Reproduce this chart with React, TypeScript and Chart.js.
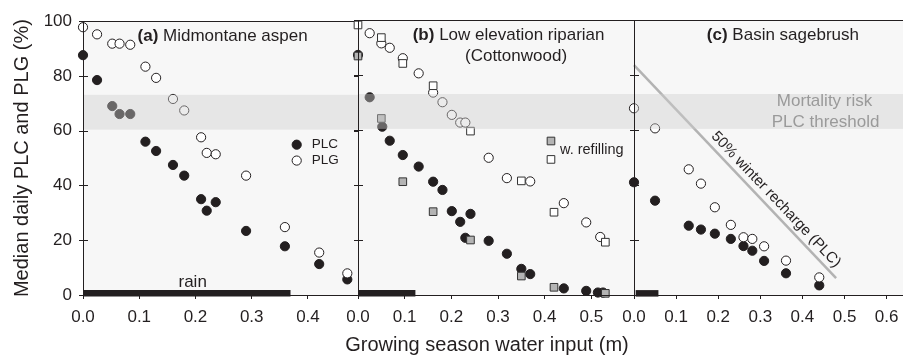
import React, { useEffect, useRef } from "react";
import { Chart, registerables } from "chart.js";

Chart.register(...registerables);

const FONT = "'Liberation Sans', Arial, Helvetica, sans-serif";
const INK = "#231f20";

// ---------- (a) Midmontane aspen ----------
const aWater = [0, 0.025, 0.052, 0.065, 0.084, 0.111, 0.13, 0.16, 0.18, 0.21, 0.22, 0.236, 0.29, 0.359, 0.42, 0.47];
const aPLC = [87.6, 78.5, 69.0, 66.1, 66.1, 56.0, 52.6, 47.5, 43.6, 35.0, 30.8, 33.9, 23.4, 17.8, 11.3, 5.7];
const aPLG = [97.8, 95.2, 91.8, 91.8, 91.4, 83.4, 79.3, 71.6, 67.4, 57.6, 51.9, 51.4, 43.6, 24.8, 15.5, 7.9];
const aRain = [0, 0.369];

// ---------- (b) Low elevation riparian (Cottonwood) ----------
const bWaterPLC = [0, 0.025, 0.052, 0.068, 0.096, 0.13, 0.161, 0.181, 0.201, 0.219, 0.23, 0.241, 0.28, 0.319, 0.35, 0.369, 0.441, 0.489, 0.514, 0.525];
const bPLC = [87.3, 71.9, 61.2, 56.1, 50.9, 46.7, 41.2, 38.2, 30.5, 26.6, 20.8, 29.5, 19.7, 15.0, 9.5, 7.6, 2.4, 1.5, 0.9, 0.9];
const bWaterPLG = [0.025, 0.05, 0.068, 0.096, 0.13, 0.161, 0.181, 0.201, 0.219, 0.23, 0.28, 0.319, 0.369, 0.441, 0.489, 0.519];
const bPLG = [95.2, 91.5, 89.9, 86.1, 80.6, 73.6, 70.1, 65.5, 62.7, 62.7, 49.9, 42.5, 41.3, 33.4, 26.4, 21.1];
const bWaterRefill = [0, 0.05, 0.096, 0.161, 0.241, 0.35, 0.42, 0.53];
const bPLCRefill = [86.9, 64.2, 41.2, 30.3, 20.0, 6.9, 2.8, 0.6];
const bPLGRefill = [98.2, 93.6, 84.2, 76.1, 59.6, 41.5, 30.1, 19.2];
const bRain = [0, 0.123];

// ---------- (c) Basin sagebrush ----------
const cWater = [0, 0.05, 0.13, 0.159, 0.192, 0.23, 0.26, 0.281, 0.309, 0.361, 0.44];
const cPLC = [41.0, 34.3, 25.2, 23.8, 22.3, 20.4, 17.8, 16.1, 12.4, 7.9, 3.5];
const cPLG = [67.9, 60.6, 45.7, 40.5, 31.9, 25.5, 21.0, 20.4, 17.7, 12.5, 6.4];
const cRain = [0.004, 0.058];
const cRechargeWater = [0, 0.48];
const cRechargePLC = [83.6, 6.1];

// ---------- shared ----------
const yTicks = [0, 20, 40, 60, 80, 100];
const riskBand = [60.4, 73.1];
const xMaxA = 0.489;
const xMaxB = 0.5914;
const xMaxC = 0.6517;

const RAIN_Y = 0.6;

type Part = { t: string; b?: boolean };
type TextItem = { x: number; y: number; parts: Part[]; align?: "left" | "center"; color?: string; size?: number };
type Marker = { x: number; y: number; kind: "dot" | "ring" | "gsq" | "wsq" };

const pts = (xs: number[], ys: number[]) => xs.map((x, i) => ({ x, y: ys[i] }));

const dotDs = (data: any[], order: number) => ({
  data, pointStyle: "circle", pointRadius: 4.6, pointBackgroundColor: INK, pointBorderColor: INK,
  pointBorderWidth: 1, showLine: false, order, clip: false,
});
const ringDs = (data: any[], order: number) => ({
  data, pointStyle: "circle", pointRadius: 4.6, pointBackgroundColor: "#ffffff", pointBorderColor: INK,
  pointBorderWidth: 1, showLine: false, order, clip: false,
});
const sqDs = (data: any[], fill: string, order: number) => ({
  data, pointStyle: "rect", pointRadius: 5.4, pointBackgroundColor: fill, pointBorderColor: "#333333",
  pointBorderWidth: 1, showLine: false, order, clip: false,
});
const rainDs = (r: number[]) => ({
  data: [{ x: r[0], y: RAIN_Y }, { x: r[1], y: RAIN_Y }], showLine: true, borderColor: INK,
  borderWidth: 6.5, borderCapStyle: "butt", pointRadius: 0, order: 10, clip: false,
});

type PanelSpec = {
  key: string; left: number; width: number; padL: number; padR: number; xMax: number; showY: boolean;
  datasets: any[]; texts: TextItem[]; markers: Marker[]; recharge?: boolean;
};

const panels: PanelSpec[] = [
  {
    key: "a", left: 0, width: 366, padL: 0, padR: 8, xMax: xMaxA, showY: true,
    datasets: [ringDs(pts(aWater, aPLG), 2), dotDs(pts(aWater, aPLC), 3), rainDs(aRain)],
    texts: [
      { x: 0.097, y: 94.5, parts: [{ t: "(a)", b: true }, { t: " Midmontane aspen" }] },
      { x: 0.4066, y: 54.9, parts: [{ t: "PLC" }], size: 13.5 },
      { x: 0.4066, y: 49.1, parts: [{ t: "PLG" }], size: 13.5 },
      { x: 0.195, y: 4.8, parts: [{ t: "rain" }], align: "center" },
    ],
    markers: [{ x: 0.38, y: 54.9, kind: "dot" }, { x: 0.38, y: 49.1, kind: "ring" }],
  },
  {
    key: "b", left: 338, width: 304, padL: 20, padR: 8, xMax: xMaxB, showY: false,
    datasets: [
      sqDs(pts(bWaterRefill, bPLGRefill), "#ffffff", 0),
      sqDs(pts(bWaterRefill, bPLCRefill), "#b4b4b4", 1),
      ringDs(pts(bWaterPLG, bPLG), 2),
      dotDs(pts(bWaterPLC, bPLC), 3),
      rainDs(bRain),
    ],
    texts: [
      { x: 0.1172, y: 94.5, parts: [{ t: "(b)", b: true }, { t: " Low elevation riparian" }] },
      { x: 0.3386, y: 86.7, parts: [{ t: "(Cottonwood)" }], align: "center" },
      { x: 0.4328, y: 52.7, parts: [{ t: "w. refilling" }], size: 14.5 },
    ],
    markers: [{ x: 0.4135, y: 56.0, kind: "gsq" }, { x: 0.4135, y: 49.3, kind: "wsq" }],
  },
  {
    key: "c", left: 614, width: 300, padL: 20, padR: 5, xMax: xMaxC, showY: false,
    datasets: [
      ringDs(pts(cWater, cPLG), 2),
      dotDs(pts(cWater, cPLC), 3),
      {
        data: pts(cRechargeWater, cRechargePLC), showLine: true, borderColor: "#b3b3b3", borderWidth: 2.5,
        pointRadius: 0, order: 9, clip: false,
      },
      rainDs(cRain),
    ],
    texts: [
      { x: 0.173, y: 94.5, parts: [{ t: "(c)", b: true }, { t: " Basin sagebrush" }] },
      { x: 0.4526, y: 70.3, parts: [{ t: "Mortality risk" }], align: "center", color: "#9a9a9a" },
      { x: 0.455, y: 62.7, parts: [{ t: "PLC threshold" }], align: "center", color: "#9a9a9a" },
    ],
    markers: [],
    recharge: true,
  },
];

function drawMarker(ctx: CanvasRenderingContext2D, px: number, py: number, kind: Marker["kind"]) {
  ctx.save();
  ctx.lineWidth = 1;
  if (kind === "dot" || kind === "ring") {
    ctx.beginPath();
    ctx.arc(px, py, 4.6, 0, Math.PI * 2);
    ctx.fillStyle = kind === "dot" ? INK : "#ffffff";
    ctx.strokeStyle = INK;
    ctx.fill();
    ctx.stroke();
  } else {
    const s = 5.4 * Math.SQRT1_2;
    ctx.beginPath();
    ctx.rect(px - s, py - s, 2 * s, 2 * s);
    ctx.fillStyle = kind === "gsq" ? "#b4b4b4" : "#ffffff";
    ctx.strokeStyle = "#333333";
    ctx.fill();
    ctx.stroke();
  }
  ctx.restore();
}

function makePlugin(spec: PanelSpec) {
  return {
    id: "panel_" + spec.key,
    beforeDraw(chart: any) {
      const { ctx, chartArea: a } = chart;
      ctx.save();
      ctx.fillStyle = "#f7f7f7";
      ctx.fillRect(a.left, a.top, a.right - a.left, a.bottom - a.top);
      ctx.restore();
    },
    afterDatasetsDraw(chart: any) {
      const { ctx, chartArea: a, scales } = chart;
      const xs = scales.x;
      const ys = scales.y;
      ctx.save();
      // mortality risk band (translucent overlay)
      const yb1 = ys.getPixelForValue(riskBand[1]);
      const yb0 = ys.getPixelForValue(riskBand[0]);
      ctx.fillStyle = "rgba(206,206,206,0.41)";
      ctx.fillRect(a.left, yb1, a.right - a.left, yb0 - yb1);

      // frame
      const L = Math.round(a.left) + 0.5;
      const R = Math.round(a.right) + 0.5;
      const T = Math.round(a.top) + 0.5;
      const B = Math.round(a.bottom) + 0.5;
      ctx.strokeStyle = INK;
      ctx.lineWidth = 1;
      ctx.beginPath();
      ctx.moveTo(L, T); ctx.lineTo(R, T);
      ctx.moveTo(L, B); ctx.lineTo(R, B);
      ctx.moveTo(L, T); ctx.lineTo(L, B);
      ctx.moveTo(R, T); ctx.lineTo(R, B);
      // crossing y ticks on both vertical edges
      for (const v of yTicks) {
        const py = Math.round(ys.getPixelForValue(v)) + 0.5;
        for (const ex of [L, R]) {
          ctx.moveTo(ex - 4.5, py);
          ctx.lineTo(ex + 4.5, py);
        }
      }
      ctx.stroke();

      // texts
      for (const t of spec.texts) {
        const size = t.size ?? 17;
        const px = xs.getPixelForValue(t.x);
        const py = ys.getPixelForValue(t.y);
        ctx.fillStyle = t.color ?? INK;
        ctx.textBaseline = "middle";
        ctx.textAlign = "left";
        const widths = t.parts.map((p) => {
          ctx.font = `${p.b ? "bold " : ""}${size}px ${FONT}`;
          return ctx.measureText(p.t).width;
        });
        const total = widths.reduce((s, w) => s + w, 0);
        let cx = t.align === "center" ? px - total / 2 : px;
        t.parts.forEach((p, i) => {
          ctx.font = `${p.b ? "bold " : ""}${size}px ${FONT}`;
          ctx.fillText(p.t, cx, py);
          cx += widths[i];
        });
      }

      // legend markers
      for (const m of spec.markers) {
        drawMarker(ctx, xs.getPixelForValue(m.x), ys.getPixelForValue(m.y), m.kind);
      }

      // recharge label along the line
      if (spec.recharge) {
        const x0 = xs.getPixelForValue(cRechargeWater[0]);
        const y0 = ys.getPixelForValue(cRechargePLC[0]);
        const x1 = xs.getPixelForValue(cRechargeWater[1]);
        const y1 = ys.getPixelForValue(cRechargePLC[1]);
        const ang = Math.atan2(y1 - y0, x1 - x0);
        const tt = 0.665;
        ctx.translate(x0 + (x1 - x0) * tt, y0 + (y1 - y0) * tt);
        ctx.rotate(ang);
        ctx.font = `15px ${FONT}`;
        ctx.fillStyle = INK;
        ctx.textAlign = "center";
        ctx.textBaseline = "middle";
        ctx.fillText("50% winter recharge (PLC)", 0, -10.5);
      }
      ctx.restore();
    },
  };
}

function Panel({ spec }: { spec: PanelSpec }) {
  const ref = useRef<HTMLCanvasElement>(null);
  useEffect(() => {
    if (!ref.current) return;
    const chart = new Chart(ref.current, {
      type: "scatter",
      data: { datasets: spec.datasets as any },
      plugins: [makePlugin(spec) as any],
      options: {
        animation: false,
        responsive: false,
        maintainAspectRatio: false,
        events: [],
        layout: { padding: { left: spec.padL, right: spec.padR, top: 20, bottom: 0 } },
        plugins: { legend: { display: false }, tooltip: { enabled: false } },
        scales: {
          x: {
            type: "linear",
            min: 0,
            max: spec.xMax,
            afterFit: (s: any) => { s.height = 61; },
            border: { display: false },
            grid: { drawOnChartArea: false, drawTicks: true, tickLength: 4, color: INK, lineWidth: 1 },
            ticks: {
              stepSize: 0.1,
              includeBounds: false,
              autoSkip: false,
              maxRotation: 0,
              padding: 8,
              color: INK,
              font: { family: FONT, size: 17 },
              callback: (v: any) => Number(v).toFixed(1),
            },
          },
          y: {
            type: "linear",
            min: 0,
            max: 100,
            display: spec.showY,
            afterFit: (s: any) => { s.width = spec.showY ? 83 : 0; },
            border: { display: false },
            grid: { drawOnChartArea: false, drawTicks: false },
            ticks: { stepSize: 20, padding: 11, color: INK, font: { family: FONT, size: 17 } },
            title: {
              display: spec.showY,
              text: "Median daily PLC and PLG (%)",
              color: INK,
              font: { family: FONT, size: 20 },
              padding: { top: 10, bottom: 0 },
            },
          },
        },
      } as any,
    });
    return () => chart.destroy();
  }, [spec]);
  return (
    <canvas
      ref={ref}
      width={spec.width}
      height={356}
      style={{ position: "absolute", left: spec.left, top: 0, width: spec.width, height: 356 }}
    />
  );
}

export default function App() {
  return (
    <div
      style={{
        position: "fixed", left: 0, top: 0, width: 903, height: 356, overflow: "hidden", background: "#ffffff",
      }}
    >
      {panels.map((p) => (
        <Panel key={p.key} spec={p} />
      ))}
      <div
        style={{
          position: "absolute", left: 287, width: 400, top: 332, textAlign: "center",
          fontFamily: FONT, fontSize: 20, lineHeight: "24px", color: INK, whiteSpace: "nowrap",
        }}
      >
        Growing season water input (m)
      </div>
    </div>
  );
}
